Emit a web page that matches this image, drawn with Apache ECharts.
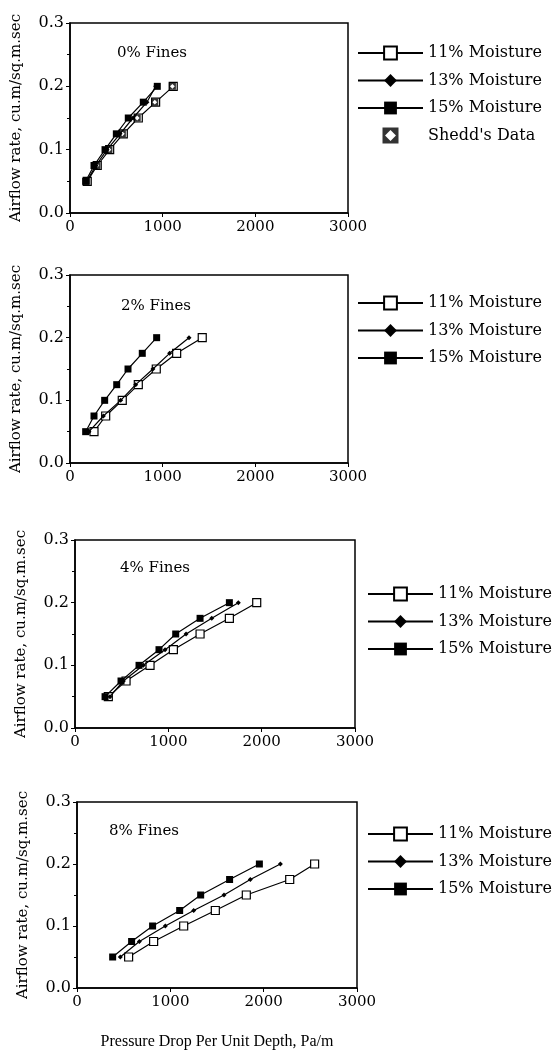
<!DOCTYPE html>
<html>
<head>
<meta charset="utf-8">
<title>Airflow vs pressure drop</title>
<script src="https://cdn.jsdelivr.net/npm/echarts@6/dist/echarts.min.js"></script>
<style>
  html, body { margin: 0; padding: 0; background: #fff; }
  #chart { width: 557px; height: 1053px; }
</style>
</head>
<body>
<div id="chart"></div>
<script>
// airflow levels shared by every curve (cu.m/sq.m.sec)
const airflow = [0.05, 0.075, 0.1, 0.125, 0.15, 0.175, 0.2];
const xTicks = [0, 1000, 2000, 3000];
const yTicks = [0.0, 0.1, 0.2, 0.3];

// pressure drop (Pa/m)
const fines0_m11 = [186, 294, 428, 575, 737, 924, 1114];
const fines0_m13 = [180, 280, 400, 540, 680, 830, 925];
const fines0_m15 = [169, 259, 378, 500, 629, 791, 942];
const fines0_shedd = [180, 290, 420, 565, 725, 915, 1105];

const fines2_m11 = [259, 385, 564, 737, 931, 1151, 1427];
const fines2_m13 = [205, 360, 547, 709, 895, 1075, 1284];
const fines2_m15 = [169, 259, 374, 504, 626, 780, 935];

const fines4_m11 = [357, 547, 804, 1054, 1340, 1654, 1947];
const fines4_m13 = [375, 518, 732, 965, 1190, 1465, 1750];
const fines4_m15 = [322, 493, 686, 900, 1079, 1340, 1654];

const fines8_m11 = [553, 821, 1143, 1482, 1814, 2279, 2546];
const fines8_m13 = [464, 668, 946, 1250, 1575, 1857, 2179];
const fines8_m15 = [382, 585, 810, 1100, 1325, 1635, 1954];

const panelTitles = ["0% Fines", "2% Fines", "4% Fines", "8% Fines"];
const moistureNames = ["11% Moisture", "13% Moisture", "15% Moisture"];
const sheddName = "Shedd's Data";

const panels = [
  [fines0_m11, fines0_m13, fines0_m15],
  [fines2_m11, fines2_m13, fines2_m15],
  [fines4_m11, fines4_m13, fines4_m15],
  [fines8_m11, fines8_m13, fines8_m15],
];

const FONT = "'DejaVu Serif', 'Liberation Serif', serif";
const NAME_FONT = "'Liberation Serif', 'DejaVu Serif', serif";

// layout of each panel (pixels)
const boxes = [
  { left: 70, right: 209, top: 23, height: 190, legendLeft: 352, legendTop: 40, titleLeft: 112, titleTop: 41 },
  { left: 70, right: 209, top: 275, height: 188, legendLeft: 352, legendTop: 290, titleLeft: 116, titleTop: 294 },
  { left: 75, right: 202, top: 540, height: 188, legendLeft: 362, legendTop: 581, titleLeft: 115, titleTop: 556 },
  { left: 77, right: 200, top: 802, height: 186, legendLeft: 362, legendTop: 821, titleLeft: 104, titleTop: 819 },
];

const sheddSymbol = "path://M0,0 H10 V10 H0 Z M5,1.6 L1.6,5 L5,8.4 L8.4,5 Z";

const markerStyles = [
  { symbol: "rect", symbolSize: 8, itemStyle: { color: "#fff", borderColor: "#000", borderWidth: 1.2 } },
  { symbol: "diamond", symbolSize: 5, itemStyle: { color: "#000" } },
  { symbol: "rect", symbolSize: 7, itemStyle: { color: "#000" } },
];

const pairs = (xs) => xs.map((x, i) => [x, airflow[i]]);

const grid = [], xAxis = [], yAxis = [], series = [], legend = [], title = [];

boxes.forEach((b, p) => {
  grid.push({
    left: b.left, right: b.right, top: b.top, height: b.height,
    show: true, borderColor: "#000", borderWidth: 1.5, backgroundColor: "transparent",
  });
  xAxis.push({
    gridIndex: p, type: "value", min: xTicks[0], max: xTicks[xTicks.length - 1], interval: 1000,
    axisLine: { lineStyle: { color: "#000", width: 1.5 } },
    axisTick: { length: 4, lineStyle: { color: "#000" } },
    axisLabel: { color: "#000", fontFamily: FONT, fontSize: 15, margin: 7, formatter: (v) => String(v) },
    splitLine: { show: false },
    name: p === 3 ? "Pressure Drop Per Unit Depth, Pa/m" : "",
    nameLocation: "middle", nameGap: 46,
    nameTextStyle: { color: "#000", fontFamily: NAME_FONT, fontSize: 16 },
  });
  yAxis.push({
    gridIndex: p, type: "value", min: yTicks[0], max: yTicks[yTicks.length - 1], interval: 0.1,
    axisLine: { lineStyle: { color: "#000", width: 1.5 } },
    axisTick: { length: 4, lineStyle: { color: "#000" } },
    minorTick: { show: true, splitNumber: 2, length: 3, lineStyle: { color: "#000" } },
    axisLabel: {
      color: "#000", fontFamily: FONT, fontSize: 16, margin: 6,
      formatter: (v) => v.toFixed(1),
    },
    splitLine: { show: false },
    name: "Airflow rate, cu.m/sq.m.sec",
    nameLocation: "middle", nameGap: 46,
    nameTextStyle: { color: "#000", fontFamily: FONT, fontSize: 15 },
  });
  title.push({
    text: panelTitles[p], left: b.titleLeft, top: b.titleTop,
    textStyle: { color: "#000", fontFamily: FONT, fontSize: 15, fontWeight: "normal" },
  });

  panels[p].forEach((xs, m) => {
    series.push({
      name: moistureNames[m], type: "line", xAxisIndex: p, yAxisIndex: p,
      data: pairs(xs),
      symbol: markerStyles[m].symbol, symbolSize: markerStyles[m].symbolSize,
      itemStyle: markerStyles[m].itemStyle,
      lineStyle: { color: "#000", width: 1.2 },
      z: 3 + m,
      animation: false,
    });
  });

  const legendData = moistureNames.slice();
  if (p === 0) legendData.push({ name: sheddName, icon: sheddSymbol, itemStyle: { color: "#000" } });
  legend.push({
    orient: "vertical", left: b.legendLeft, top: b.legendTop,
    itemWidth: 65, itemHeight: 16, itemGap: 11.5,
    data: legendData,
    textStyle: { color: "#000", fontFamily: FONT, fontSize: 16 },
    selectedMode: false,
  });
});

series.push({
  name: sheddName, type: "scatter", xAxisIndex: 0, yAxisIndex: 0,
  data: pairs(fines0_shedd),
  symbol: sheddSymbol, symbolSize: 7,
  itemStyle: { color: "#000" },
  z: 10,
  animation: false,
});

const chart = echarts.init(document.getElementById("chart"));
chart.setOption({
  animation: false,
  backgroundColor: "#fff",
  title, grid, xAxis, yAxis, legend, series,
});
</script>
</body>
</html>
